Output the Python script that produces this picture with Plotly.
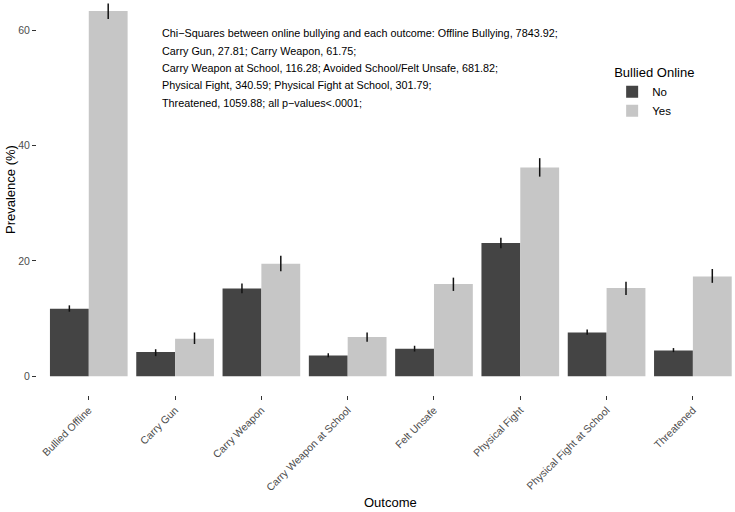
import plotly.graph_objects as go

outcomes = ["Bullied Offline", "Carry Gun", "Carry Weapon", "Carry Weapon at School",
            "Felt Unsafe", "Physical Fight", "Physical Fight at School", "Threatened"]
no_vals = [11.7, 4.2, 15.2, 3.6, 4.8, 23.1, 7.6, 4.5]
no_lo = [11.2, 3.5, 14.4, 3.3, 4.3, 22.2, 7.2, 4.2]
no_hi = [12.3, 4.7, 16.1, 4.0, 5.3, 24.0, 8.1, 4.9]
yes_vals = [63.3, 6.5, 19.5, 6.8, 16.0, 36.2, 15.3, 17.3]
yes_lo = [61.9, 5.6, 18.2, 6.0, 14.8, 34.6, 14.1, 16.2]
yes_hi = [64.6, 7.6, 20.9, 7.6, 17.1, 37.8, 16.4, 18.6]

note_lines = [
    "Chi\u2212Squares between online bullying and each outcome: Offline Bullying, 7843.92;",
    "Carry Gun, 27.81; Carry Weapon, 61.75;",
    "Carry Weapon at School, 116.28; Avoided School/Felt Unsafe, 681.82;",
    "Physical Fight, 340.59; Physical Fight at School, 301.79;",
    "Threatened, 1059.88; all p\u2212values<.0001;",
]

FONT = "Liberation Sans, Arial, Helvetica, sans-serif"

def err(vals, lo, hi):
    return dict(type="data", symmetric=False,
                array=[h - v for v, h in zip(vals, hi)],
                arrayminus=[v - l for v, l in zip(vals, lo)],
                width=0, thickness=1.5, color="#111111")

fig = go.Figure()
fig.add_trace(go.Bar(name="No", x=outcomes, y=no_vals, marker=dict(color="#444444", line=dict(width=0)),
                     error_y=err(no_vals, no_lo, no_hi)))
fig.add_trace(go.Bar(name="Yes", x=outcomes, y=yes_vals, marker=dict(color="#C6C6C6", line=dict(width=0)),
                     error_y=err(yes_vals, yes_lo, yes_hi)))

for i, line in enumerate(note_lines):
    fig.add_annotation(x=0.82, y=59.4 - 3.0 * i, xref="x", yref="y", text=line,
                       showarrow=False, xanchor="left", yanchor="middle",
                       font=dict(family=FONT, size=10.8, color="black"))

# axis titles
fig.add_annotation(x=(390 - 37) / 698, y=-(502 - 395) / 395, xref="paper", yref="paper",
                   text="Outcome", showarrow=False, xanchor="center", yanchor="middle",
                   font=dict(family=FONT, size=13, color="black"))
fig.add_annotation(x=-(37 - 10) / 698, y=1 - 190 / 395, xref="paper", yref="paper",
                   text="Prevalence (%)", showarrow=False, textangle=-90,
                   xanchor="center", yanchor="middle",
                   font=dict(family=FONT, size=13, color="black"))

fig.update_layout(
    width=735, height=512,
    margin=dict(l=37, r=0, t=0, b=117, autoexpand=False),
    paper_bgcolor="white", plot_bgcolor="white",
    barmode="group", bargap=0.1, bargroupgap=0,
    font=dict(family=FONT, color="black"),
    legend=dict(title=dict(text="Bullied Online", font=dict(size=13, color="black")),
                font=dict(size=11.5, color="black"),
                x=0.824, y=0.847, xanchor="left", yanchor="top",
                bgcolor="rgba(0,0,0,0)", tracegroupgap=0, itemwidth=30),
    xaxis=dict(range=[-0.6, 7.488], showgrid=False, zeroline=False, showline=False,
               automargin=False,
               ticks="outside", ticklen=4, tickcolor="#333333", tickwidth=1,
               tickangle=-45, tickfont=dict(size=10.5, color="#4D4D4D")),
    yaxis=dict(range=[-3.23, 65.2], showgrid=False, zeroline=False, showline=False,
               automargin=False,
               tickvals=[0, 20, 40, 60], ticks="outside", ticklen=4, tickcolor="#333333",
               tickwidth=1, tickfont=dict(size=10.5, color="#4D4D4D")),
)

fig.write_html("out.html", config={"displayModeBar": False},
               post_script="document.body.style.margin='0px';")
